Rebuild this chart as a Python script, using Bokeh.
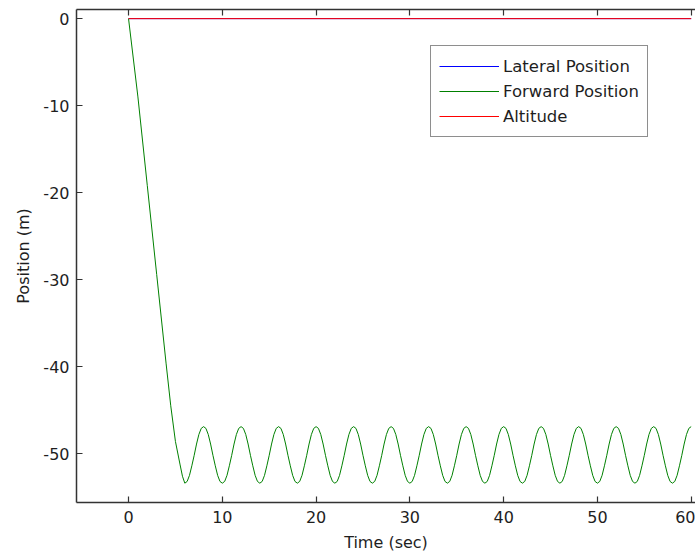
from bokeh.plotting import figure
from bokeh.models import Range1d, LinearAxis, Legend, LegendItem, FixedTicker
from bokeh.embed import file_html
from bokeh.resources import INLINE
import numpy as np

# ---- data ----
x_ticks = [0, 10, 20, 30, 40, 50, 60]
y_ticks = [0, -10, -20, -30, -40, -50]
y_tick_labels = ["0", "-10", "-20", "-30", "-40", "-50"]

series_names = ["Lateral Position", "Forward Position", "Altitude"]
series_colors = ["#0000ff", "#008000", "#ff0000"]

lateral_t = [0, 60]
lateral_y = [0, 0]

altitude_t = [0, 60]
altitude_y = [0, 0]

# forward position: initial descent
forward_t_descent = [0, 1, 2, 3, 4, 4.5, 5, 5.5, 5.75]
forward_y_descent = [0, -9.0, -19.2, -29.4, -39.6, -44.5, -48.6, -51.3, -52.6]

# forward position: oscillation sampled every 0.25 s from t=6 to t=60
forward_y_osc = [
    -53.4, -53.2, -52.5, -51.4, -50.2, -48.9, -47.8, -47.1, -46.9, -47.1, -47.8, -48.9, -50.2, -51.4, -52.5, -53.2,
    -53.4, -53.2, -52.5, -51.4, -50.2, -48.9, -47.8, -47.1, -46.9, -47.1, -47.8, -48.9, -50.2, -51.4, -52.5, -53.2,
    -53.4, -53.2, -52.5, -51.4, -50.2, -48.9, -47.8, -47.1, -46.9, -47.1, -47.8, -48.9, -50.2, -51.4, -52.5, -53.2,
    -53.4, -53.2, -52.5, -51.4, -50.2, -48.9, -47.8, -47.1, -46.9, -47.1, -47.8, -48.9, -50.2, -51.4, -52.5, -53.2,
    -53.4, -53.2, -52.5, -51.4, -50.2, -48.9, -47.8, -47.1, -46.9, -47.1, -47.8, -48.9, -50.2, -51.4, -52.5, -53.2,
    -53.4, -53.2, -52.5, -51.4, -50.2, -48.9, -47.8, -47.1, -46.9, -47.1, -47.8, -48.9, -50.2, -51.4, -52.5, -53.2,
    -53.4, -53.2, -52.5, -51.4, -50.2, -48.9, -47.8, -47.1, -46.9, -47.1, -47.8, -48.9, -50.2, -51.4, -52.5, -53.2,
    -53.4, -53.2, -52.5, -51.4, -50.2, -48.9, -47.8, -47.1, -46.9, -47.1, -47.8, -48.9, -50.2, -51.4, -52.5, -53.2,
    -53.4, -53.2, -52.5, -51.4, -50.2, -48.9, -47.8, -47.1, -46.9, -47.1, -47.8, -48.9, -50.2, -51.4, -52.5, -53.2,
    -53.4, -53.2, -52.5, -51.4, -50.2, -48.9, -47.8, -47.1, -46.9, -47.1, -47.8, -48.9, -50.2, -51.4, -52.5, -53.2,
    -53.4, -53.2, -52.5, -51.4, -50.2, -48.9, -47.8, -47.1, -46.9, -47.1, -47.8, -48.9, -50.2, -51.4, -52.5, -53.2,
    -53.4, -53.2, -52.5, -51.4, -50.2, -48.9, -47.8, -47.1, -46.9, -47.1, -47.8, -48.9, -50.2, -51.4, -52.5, -53.2,
    -53.4, -53.2, -52.5, -51.4, -50.2, -48.9, -47.8, -47.1, -46.9, -47.1, -47.8, -48.9, -50.2, -51.4, -52.5, -53.2,
    -53.4, -53.2, -52.5, -51.4, -50.2, -48.9, -47.8, -47.1, -46.9,
]
forward_t_osc = list(np.arange(len(forward_y_osc)) * 0.25 + 6.0)

forward_t = forward_t_descent + forward_t_osc
forward_y = forward_y_descent + forward_y_osc

x_label = "Time (sec)"
y_label = "Position (m)"

# ---- styling ----
FONT = "DejaVu Sans"
FS = "16px"
TEXT = "#1e1e1e"
AXC = "#333333"

p = figure(
    width=695, height=554,
    x_range=Range1d(-5.55, 60.46), y_range=Range1d(-55.62, 1.05),
    output_backend="svg", toolbar_location=None,
    min_border_left=76, min_border_right=0, min_border_top=9, min_border_bottom=51,
)
p.background_fill_color = "white"
p.border_fill_color = "white"
p.outline_line_color = None
p.xgrid.visible = False
p.ygrid.visible = False

for ax, ticks in ((p.xaxis[0], x_ticks), (p.yaxis[0], y_ticks)):
    ax.ticker = FixedTicker(ticks=ticks)
    ax.major_tick_in = 6
    ax.major_tick_out = 0
    ax.minor_tick_in = 0
    ax.minor_tick_out = 0
    ax.axis_line_color = AXC
    ax.axis_line_width = 1.5
    ax.major_tick_line_color = AXC
    ax.major_tick_line_width = 1.2
    ax.major_label_text_font = FONT
    ax.major_label_text_font_size = FS
    ax.major_label_text_color = TEXT
    ax.axis_label_text_font = FONT
    ax.axis_label_text_font_size = FS
    ax.axis_label_text_font_style = "normal"
    ax.axis_label_text_color = TEXT

p.yaxis.major_label_overrides = {t: s for t, s in zip(y_ticks, y_tick_labels)}
p.xaxis.axis_label = x_label
p.yaxis.axis_label = y_label
p.xaxis.major_label_standoff = 8
p.xaxis.axis_label_standoff = 7
p.yaxis.major_label_standoff = 7
p.yaxis.axis_label_standoff = 7

top = LinearAxis(
    ticker=FixedTicker(ticks=x_ticks),
    major_label_overrides={t: "" for t in x_ticks},
    major_tick_in=6, major_tick_out=0, minor_tick_in=0, minor_tick_out=0,
    major_label_standoff=0, major_label_text_font_size="1px",
    axis_line_color=AXC, axis_line_width=1.5,
    major_tick_line_color=AXC, major_tick_line_width=1.2,
)
p.add_layout(top, "above")

r_lat = p.line(lateral_t, lateral_y, line_color=series_colors[0], line_width=1)
r_fwd = p.line(forward_t, forward_y, line_color=series_colors[1], line_width=1)
r_alt = p.line(altitude_t, altitude_y, line_color=series_colors[2], line_width=1)

legend = Legend(
    items=[
        LegendItem(label=series_names[0], renderers=[r_lat]),
        LegendItem(label=series_names[1], renderers=[r_fwd]),
        LegendItem(label=series_names[2], renderers=[r_alt]),
    ],
    location=(354, 365),
    margin=0, padding=8, spacing=1,
    glyph_width=60, glyph_height=24, label_height=24, label_standoff=4,
    label_text_font=FONT, label_text_font_size="16.5px", label_text_color=TEXT,
    border_line_color="#1e1e1e", border_line_width=1.2,
    background_fill_color="white", background_fill_alpha=1.0,
)
p.add_layout(legend)

open("out.html", "w").write(file_html(p, INLINE))
